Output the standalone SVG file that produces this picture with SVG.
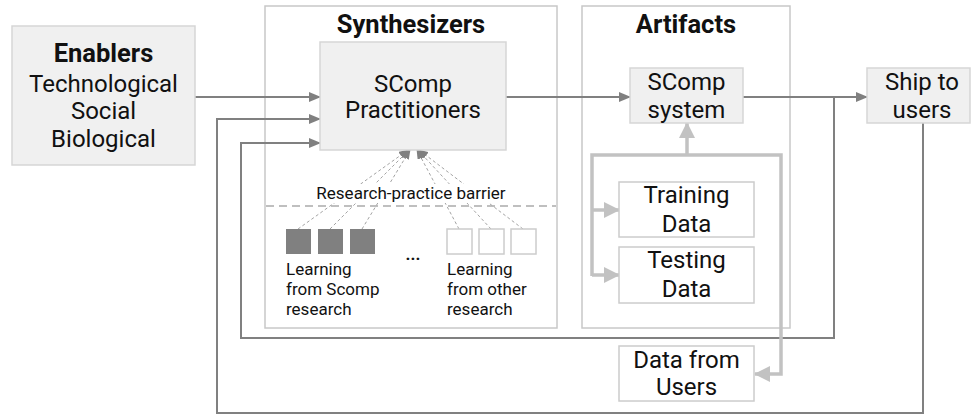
<svg xmlns="http://www.w3.org/2000/svg" width="971" height="415" viewBox="0 0 971 415">
  <style>
    text { font-family: Roboto, "Liberation Sans", sans-serif; fill: #111; }
    .title { font-weight: bold; font-size: 25.5px; text-anchor: middle; }
    .big { font-size: 24px; text-anchor: middle; }
    .mid { font-size: 24px; text-anchor: middle; }
    .small { font-size: 17px; }
    .frame { fill: #fff; stroke: #c8c8c8; stroke-width: 1.5; }
    .box { fill: #f0f0f0; stroke: #d6d6d6; stroke-width: 1.5; }
    .wbox { fill: #fff; stroke: #cccccc; stroke-width: 1.5; }
    .conn { fill: none; stroke: #808080; stroke-width: 2; }
    .data { fill: none; stroke: #c2c2c2; stroke-width: 3.5; }
    .dash { fill: none; stroke: #999; stroke-width: 0.9; stroke-dasharray: 3 2.5; }
  </style>
  <defs>
    <marker id="ah" markerUnits="userSpaceOnUse" markerWidth="12" markerHeight="10" refX="11" refY="5" orient="auto">
      <path d="M0,0 L12,5 L0,10 Z" fill="#808080"/>
    </marker>
    <marker id="ahL" markerUnits="userSpaceOnUse" markerWidth="16" markerHeight="16" refX="15" refY="8" orient="auto">
      <path d="M0,0 L16,8 L0,16 Z" fill="#c2c2c2"/>
    </marker>
    <marker id="ahS" markerUnits="userSpaceOnUse" markerWidth="10" markerHeight="8" refX="9" refY="4" orient="auto">
      <path d="M0,0 L10,4 L0,8 Z" fill="#808080"/>
    </marker>
  </defs>

  <!-- group frames -->
  <g id="synthesizers">
    <rect class="frame" x="265" y="6" width="292" height="322"/>
    <text class="title" x="411" y="33">Synthesizers</text>
  </g>
  <g id="artifacts">
    <rect class="frame" x="582" y="6" width="208" height="322"/>
    <text class="title" x="686" y="33">Artifacts</text>
  </g>

  <!-- connectors -->
  <g id="connectors">
    <line class="conn" x1="195" y1="97" x2="320" y2="97" marker-end="url(#ah)"/>
    <line class="conn" x1="506" y1="97" x2="630" y2="97" marker-end="url(#ah)"/>
    <line class="conn" x1="743" y1="97" x2="867" y2="97" marker-end="url(#ah)"/>
    <polyline class="conn" points="834,97 834,338 241,338 241,143 320,143" marker-end="url(#ah)"/>
    <polyline class="conn" points="923,123 923,413 217,413 217,119 320,119" marker-end="url(#ah)"/>

    <!-- data flow loop -->
    <polyline class="data" points="592,276 592,155 781,155 781,374 755,374" marker-end="url(#ahL)"/>
    <line class="data" x1="687" y1="155" x2="687" y2="123" marker-end="url(#ahL)"/>
    <line class="data" x1="592" y1="210" x2="619" y2="210" marker-end="url(#ahL)"/>
    <line class="data" x1="592" y1="275" x2="619" y2="275" marker-end="url(#ahL)"/>

    <!-- research learnings crossing the barrier -->
    <line class="dash" x1="298" y1="229" x2="408" y2="150" marker-end="url(#ahS)"/>
    <line class="dash" x1="330" y1="229" x2="409" y2="150" marker-end="url(#ahS)"/>
    <line class="dash" x1="362" y1="229" x2="410" y2="150" marker-end="url(#ahS)"/>
    <line class="dash" x1="459" y1="229" x2="417" y2="150" marker-end="url(#ahS)"/>
    <line class="dash" x1="491" y1="229" x2="418" y2="150" marker-end="url(#ahS)"/>
    <line class="dash" x1="523" y1="229" x2="419" y2="150" marker-end="url(#ahS)"/>
  </g>

  <g id="barrier">
    <rect x="312" y="184" width="200" height="19" fill="#fff"/>
    <line x1="266" y1="206" x2="556" y2="206" stroke="#aaa" stroke-width="1.5" stroke-dasharray="8 5"/>
    <text class="small" x="411" y="199" text-anchor="middle">Research-practice barrier</text>
  </g>

  <g id="enablers">
    <rect class="box" x="12" y="26" width="183" height="139"/>
    <text class="title" x="103.5" y="62" font-size="26">Enablers</text>
    <text class="big" x="103.5" y="92">Technological</text>
    <text class="big" x="103.5" y="119">Social</text>
    <text class="big" x="103.5" y="147">Biological</text>
  </g>

  <g id="practitioners">
    <rect class="box" x="320" y="42" width="186" height="108"/>
    <text class="big" x="413" y="92">SComp</text>
    <text class="big" x="413" y="118">Practitioners</text>
  </g>

  <g id="scomp-research">
    <rect x="286" y="229" width="25" height="25" fill="#808080"/>
    <rect x="318" y="229" width="25" height="25" fill="#808080"/>
    <rect x="350" y="229" width="25" height="25" fill="#808080"/>
    <text class="small" x="286" y="275">Learning</text>
    <text class="small" x="286" y="295">from Scomp</text>
    <text class="small" x="286" y="315">research</text>
  </g>

  <g id="ellipsis">
    <text class="small" x="413" y="260" text-anchor="middle" font-weight="bold">...</text>
  </g>

  <g id="other-research">
    <rect class="wbox" x="447" y="229" width="25" height="25"/>
    <rect class="wbox" x="479" y="229" width="25" height="25"/>
    <rect class="wbox" x="511" y="229" width="25" height="25"/>
    <text class="small" x="447" y="275">Learning</text>
    <text class="small" x="447" y="295">from other</text>
    <text class="small" x="447" y="315">research</text>
  </g>

  <g id="scomp-system">
    <rect class="box" x="630" y="68" width="113" height="55"/>
    <text class="mid" x="686.5" y="90">SComp</text>
    <text class="mid" x="686.5" y="118">system</text>
  </g>

  <g id="ship-to-users">
    <rect class="box" x="867" y="68" width="103" height="55"/>
    <text class="mid" x="922" y="90">Ship to</text>
    <text class="mid" x="922" y="118">users</text>
  </g>

  <g id="training-data">
    <rect class="wbox" x="619" y="182" width="135" height="55"/>
    <text class="mid" x="686.5" y="203">Training</text>
    <text class="mid" x="686.5" y="232">Data</text>
  </g>

  <g id="testing-data">
    <rect class="wbox" x="619" y="247" width="135" height="56"/>
    <text class="mid" x="686.5" y="268">Testing</text>
    <text class="mid" x="686.5" y="297">Data</text>
  </g>

  <g id="data-from-users">
    <rect class="wbox" x="619" y="346" width="135" height="55"/>
    <text class="mid" x="686.5" y="368">Data from</text>
    <text class="mid" x="686.5" y="395">Users</text>
  </g>
</svg>
